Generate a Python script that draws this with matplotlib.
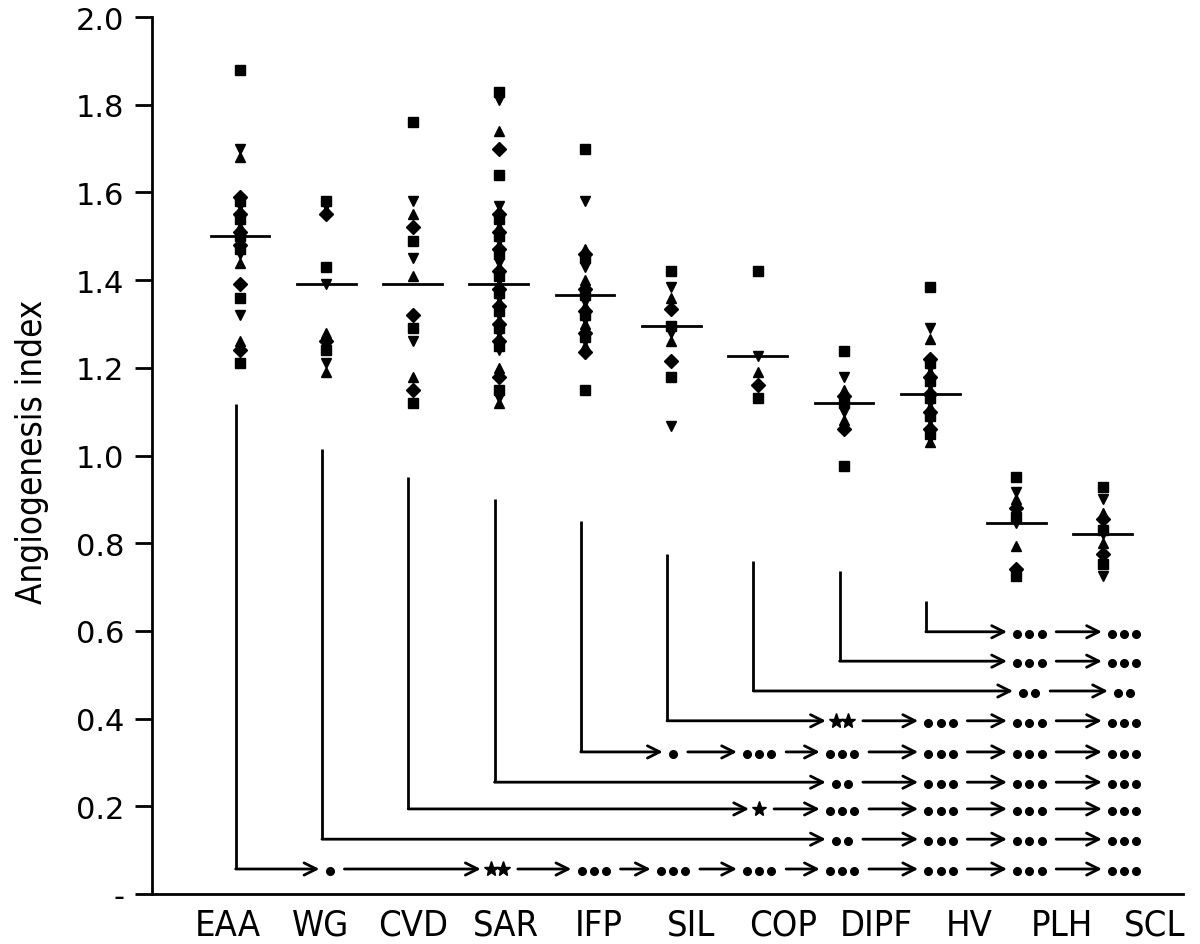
import matplotlib
matplotlib.use("Agg")
import matplotlib.pyplot as plt
import numpy as np

groups = ["EAA", "WG", "CVD", "SAR", "IFP", "SIL", "COP", "DIPF", "HV", "PLH", "SCL"]

eaa = [1.88, 1.70, 1.68, 1.59, 1.58, 1.57, 1.56, 1.55, 1.54, 1.53, 1.52, 1.51, 1.50, 1.50,
       1.49, 1.48, 1.47, 1.46, 1.44, 1.39, 1.36, 1.32, 1.26, 1.24, 1.21]
wg = [1.58, 1.57, 1.56, 1.55, 1.43, 1.39, 1.28, 1.26, 1.24, 1.21, 1.19]
cvd = [1.76, 1.58, 1.55, 1.52, 1.49, 1.45, 1.41, 1.32, 1.29, 1.26, 1.18, 1.15, 1.12]
sar = [1.83, 1.81, 1.74, 1.70, 1.64, 1.57, 1.56, 1.55, 1.54, 1.53, 1.52, 1.51, 1.50, 1.49,
       1.48, 1.47, 1.46, 1.44, 1.43, 1.42, 1.41, 1.40, 1.39, 1.38, 1.37, 1.36, 1.35, 1.34,
       1.33, 1.32, 1.31, 1.30, 1.29, 1.28, 1.27, 1.26, 1.25, 1.24, 1.20, 1.18, 1.15, 1.13, 1.12]
ifp = [1.70, 1.58, 1.47, 1.46, 1.45, 1.43, 1.40, 1.38, 1.365, 1.35, 1.34, 1.33, 1.32, 1.31,
       1.30, 1.28, 1.27, 1.26, 1.25, 1.235, 1.15]
sil = [1.42, 1.385, 1.36, 1.335, 1.295, 1.28, 1.26, 1.215, 1.18, 1.067]
cop = [1.42, 1.228, 1.19, 1.16, 1.13]
dipf = [1.238, 1.18, 1.15, 1.135, 1.12, 1.10, 1.08, 1.06, 0.976]
hv = [1.385, 1.29, 1.265, 1.22, 1.21, 1.20, 1.19, 1.18, 1.17, 1.16, 1.15, 1.14, 1.13, 1.12,
      1.11, 1.10, 1.09, 1.08, 1.07, 1.06, 1.05, 1.04, 1.03]
plh = [0.951, 0.917, 0.90, 0.88, 0.86, 0.845, 0.794, 0.741, 0.725]
scl = [0.928, 0.90, 0.87, 0.855, 0.83, 0.822, 0.80, 0.775, 0.753, 0.725]
values = [eaa, wg, cvd, sar, ifp, sil, cop, dipf, hv, plh, scl]

medians = [1.50, 1.39, 1.39, 1.39, 1.365, 1.295, 1.228, 1.12, 1.14, 0.845, 0.822]

# pairwise comparison brackets (row per group, EAA..HV)
bracket_top = [1.117, 1.015, 0.951, 0.90, 0.85, 0.775, 0.76, 0.737, 0.668]
bracket_level = [0.057, 0.125, 0.194, 0.255, 0.324, 0.395, 0.463, 0.531, 0.598]
sig = [
    ["•", "", "**", "•••", "•••", "•••", "•••", "•••", "•••", "•••"],
    ["", "", "", "", "", "••", "•••", "•••", "•••"],
    ["", "", "", "*", "•••", "•••", "•••", "•••"],
    ["", "", "", "••", "•••", "•••", "•••"],
    ["•", "•••", "•••", "•••", "•••", "•••"],
    ["", "**", "•••", "•••", "•••"],
    ["", "", "••", "••"],
    ["", "•••", "•••"],
    ["•••", "•••"],
]
sym_x = [0, 1.04, 2.0, 2.98, 4.1, 5.02, 6.02, 6.98, 8.12, 9.15, 10.25]
label_x = [-0.14, 0.93, 2.01, 3.08, 4.16, 5.23, 6.30, 7.38, 8.45, 9.53, 10.6]

markers = ["s", "v", "^", "D"]

fig = plt.figure(figsize=(12, 9.45), dpi=100)
ax = fig.add_axes([152 / 1200, 1 - 895 / 945, (1183 - 152) / 1200, (895 - 18) / 945])
ax.set_xlim(-1.02, 10.93)
ax.set_ylim(0, 2.0)

for i, vals in enumerate(values):
    for k, v in enumerate(vals):
        ax.plot(i, v, marker=markers[k % 4], color="black", ms=7, ls="none")
    ax.plot([i - 0.34, i + 0.34], [medians[i], medians[i]], color="black", lw=2)

dot_step = 0.14
gap_in = 0.07
gap_out = 0.12
arrow_kw = dict(arrowstyle="->", color="black", lw=2, mutation_scale=22,
                shrinkA=0, shrinkB=0)

for r, row in enumerate(sig):
    y = bracket_level[r]
    vx = r - 0.05
    ax.plot([vx, vx], [bracket_top[r], y], color="black", lw=2, solid_capstyle="butt")
    start = vx
    for c, s in enumerate(row):
        if not s:
            continue
        j = r + 1 + c
        n = len(s)
        xs = sym_x[j] + (np.arange(n) - (n - 1) / 2) * dot_step
        left, right = xs[0] - 0.05, xs[-1] + 0.05
        ax.annotate("", xy=(left - gap_in, y), xytext=(start, y), arrowprops=arrow_kw)
        if s[0] == "*":
            ax.plot(xs, [y] * n, marker="*", ms=11, color="black", ls="none")
        else:
            ax.plot(xs, [y - 0.004] * n, marker="o", ms=5.5, color="black", ls="none")
        start = right + gap_out

for side in ["top", "right"]:
    ax.spines[side].set_visible(False)
ax.spines["left"].set_linewidth(2)
ax.spines["bottom"].set_linewidth(2)

yt = np.arange(0, 2.01, 0.2)
ax.set_yticks(yt)
ax.set_yticklabels(["-"] + ["%.1f" % t for t in yt[1:]], fontsize=22, family="DejaVu Sans")
ax.tick_params(axis="y", length=12, width=2, pad=8)

ax.set_xticks(label_x)
ax.set_xticklabels(groups, fontsize=26, family="DejaVu Sans", fontstretch="condensed")
ax.tick_params(axis="x", length=0, pad=10)

ax.set_ylabel("Angiogenesis index", fontsize=25, family="DejaVu Sans",
              fontstretch="condensed")
ax.yaxis.set_label_coords(-0.10, 0.505)

fig.savefig("out.png", dpi=100)
